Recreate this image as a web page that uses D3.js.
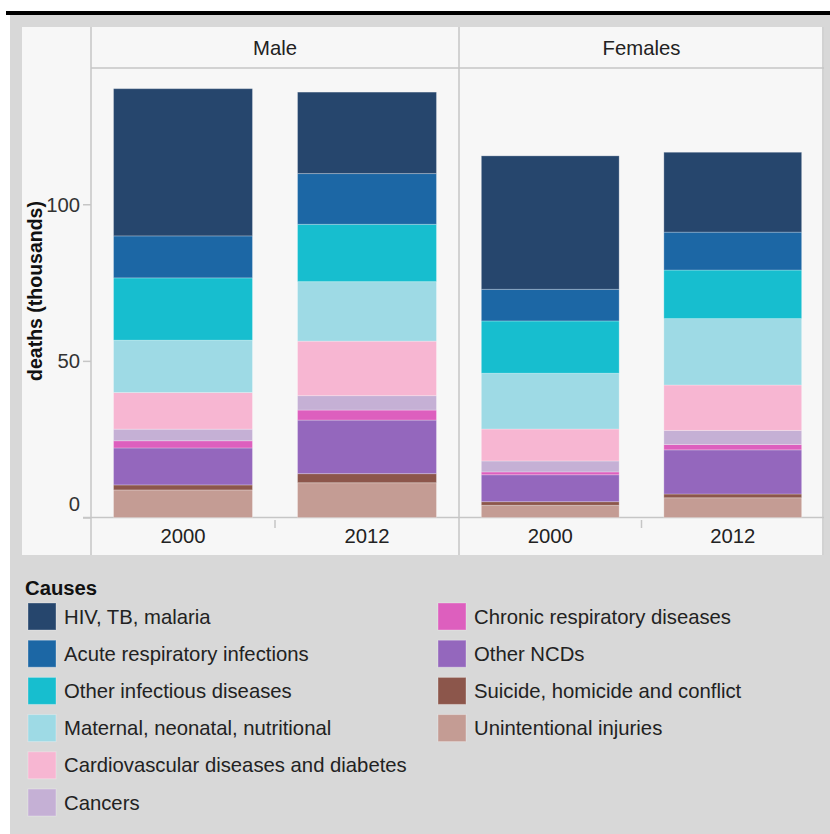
<!DOCTYPE html>
<html>
<head>
<meta charset="utf-8">
<script src="https://cdn.jsdelivr.net/npm/d3@7"></script>
<style>
  html, body { margin: 0; padding: 0; background: #fff; }
  svg { display: block; font-family: "Liberation Sans", Arial, sans-serif; }
</style>
</head>
<body>
<svg id="chart" width="830" height="834"></svg>
<script>
// ---- data ----
const causes = [
  "HIV, TB, malaria",
  "Acute respiratory infections",
  "Other infectious diseases",
  "Maternal, neonatal, nutritional",
  "Cardiovascular diseases and diabetes",
  "Cancers",
  "Chronic respiratory diseases",
  "Other NCDs",
  "Suicide, homicide and conflict",
  "Unintentional injuries"
];
const causeColors = ["#26466d", "#1c67a5", "#17becf", "#9edae5", "#f7b6d2",
                     "#c5b0d5", "#dd5fbe", "#9467bd", "#8c564b", "#c49c94"];
const sexes = ["Male", "Females"];
const years = ["2000", "2012"];
// deaths (thousands), in cause order
const male2000   = [47.0, 13.4, 19.9, 16.7, 11.7, 3.7, 2.3, 11.8, 1.6, 8.8];
const male2012   = [26.0, 16.2, 18.3, 19.0, 17.4, 4.6, 3.2, 17.1, 2.9, 11.1];
const female2000 = [42.6, 10.1, 16.7, 17.8, 10.2, 3.5, 0.9, 8.6, 1.15, 3.9];
const female2012 = [25.5, 12.1, 15.5, 21.2, 14.5, 4.5, 1.7, 14.1, 1.2, 6.3];
const yTicks = [0, 50, 100];

const series = {
  "Male": { "2000": male2000, "2012": male2012 },
  "Females": { "2000": female2000, "2012": female2012 }
};

// ---- layout ----
const svg = d3.select("#chart");
const lineCol = "#c6c6c6";
const textCol = "#222";
const fs = 20.3;

svg.append("rect").attr("x", 6).attr("y", 11).attr("width", 824).attr("height", 4).attr("fill", "#000");
svg.append("rect").attr("x", 10).attr("y", 15).attr("width", 820).attr("height", 819).attr("fill", "#d8d8d8");
svg.append("rect").attr("x", 22).attr("y", 27).attr("width", 802).attr("height", 528).attr("fill", "#f7f7f7");

const plotLeft = 91, plotRight = 824, headerTop = 27, headerBottom = 68, baseY = 517.5, labelBottom = 555;
const facetX = d3.scaleOrdinal().domain(sexes).range([[91, 459], [459, 824]]);

const y = d3.scaleLinear().domain([0, 143.5]).range([baseY, headerBottom]);

// grid lines / frames
svg.append("line").attr("x1", plotLeft).attr("x2", plotRight).attr("y1", headerBottom).attr("y2", headerBottom)
  .attr("stroke", lineCol).attr("stroke-width", 1.5);
[91, 459, 823].forEach(x => {
  svg.append("line").attr("x1", x).attr("x2", x).attr("y1", headerTop).attr("y2", labelBottom)
    .attr("stroke", lineCol).attr("stroke-width", 1.5);
});
svg.append("line").attr("x1", 83).attr("x2", plotRight).attr("y1", baseY).attr("y2", baseY)
  .attr("stroke", lineCol).attr("stroke-width", 1.5);

// stacking
const stack = d3.stack().keys(d3.range(causes.length).reverse()).value((d, k) => d.values[k]);

sexes.forEach(sex => {
  const [x0, x1] = facetX(sex);
  const x = d3.scaleBand().domain(years).range([x0, x1]).paddingInner(0.245).paddingOuter(0.1225);
  const rows = years.map(yr => ({ year: yr, values: series[sex][yr] }));
  const stacked = stack(rows);

  const g = svg.append("g");
  stacked.forEach(layer => {
    g.selectAll(null).data(layer).join("rect")
      .attr("x", d => x(d.data.year))
      .attr("width", x.bandwidth())
      .attr("y", d => y(d[1]))
      .attr("height", d => y(d[0]) - y(d[1]))
      .attr("fill", causeColors[layer.key])
      .attr("stroke", "#ffffff").attr("stroke-opacity", 0.25).attr("stroke-width", 1);
  });

  // facet header
  svg.append("text").attr("x", (x0 + x1) / 2).attr("y", 55)
    .attr("text-anchor", "middle").attr("font-size", fs).attr("fill", textCol).text(sex);

  // x labels
  years.forEach(yr => {
    svg.append("text").attr("x", x(yr) + x.bandwidth() / 2).attr("y", 543)
      .attr("text-anchor", "middle").attr("font-size", fs).attr("fill", textCol).text(yr);
  });
  // separator tick between bands
  const mid = (x(years[0]) + x.bandwidth() + x(years[1])) / 2;
  svg.append("line").attr("x1", mid).attr("x2", mid).attr("y1", 520).attr("y2", 528)
    .attr("stroke", lineCol).attr("stroke-width", 1.5);
});

// y axis
const yAxis = svg.append("g").attr("transform", `translate(${plotLeft},0)`)
  .call(d3.axisLeft(y).tickValues(yTicks).tickSize(8).tickPadding(3));
yAxis.select(".domain").remove();
yAxis.selectAll(".tick line").attr("stroke", lineCol).attr("stroke-width", 1.5);
yAxis.selectAll(".tick text")
  .attr("font-size", fs).attr("fill", "#333")
  .attr("font-family", "Liberation Sans, Arial, sans-serif")
  .attr("dy", d => d === 0 ? "-0.35em" : "0.35em");

svg.append("text")
  .attr("transform", "translate(35,291) rotate(-90)")
  .attr("text-anchor", "middle").attr("dominant-baseline", "central")
  .attr("font-size", 19.5).attr("font-weight", "bold").attr("fill", "#111")
  .text("deaths (thousands)");

// legend
svg.append("text").attr("x", 25).attr("y", 595).attr("font-size", fs).attr("font-weight", "bold")
  .attr("fill", "#111").text("Causes");

const legendCols = [{ sx: 28, tx: 64 }, { sx: 438, tx: 474 }];
causes.forEach((c, i) => {
  const col = i < 6 ? 0 : 1;
  const row = i < 6 ? i : i - 6;
  const ty = 603 + row * 37.2;
  svg.append("rect").attr("x", legendCols[col].sx).attr("y", ty).attr("width", 28).attr("height", 27)
    .attr("fill", causeColors[i]).attr("stroke", "#ffffff").attr("stroke-opacity", 0.3);
  svg.append("text").attr("x", legendCols[col].tx).attr("y", ty + 13.5)
    .attr("dominant-baseline", "central").attr("font-size", fs).attr("fill", textCol).text(c);
});
</script>
</body>
</html>
